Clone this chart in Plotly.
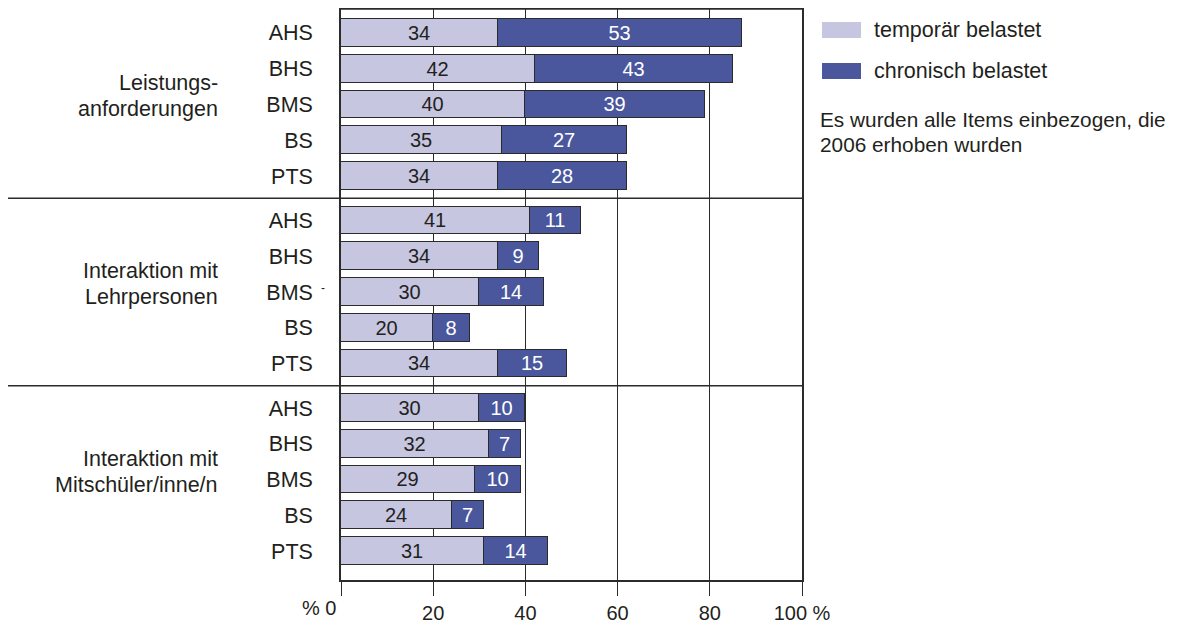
import plotly.graph_objects as go

# ---- data ----
groups = [["Leistungs-", "anforderungen"], ["Interaktion mit", "Lehrpersonen"], ["Interaktion mit", "Mitschüler/inne/n"]]
school_types = ["AHS", "BHS", "BMS", "BS", "PTS"]
temporaer = [
    [34, 42, 40, 35, 34],
    [41, 34, 30, 20, 34],
    [30, 32, 29, 24, 31],
]
chronisch = [
    [53, 43, 39, 27, 28],
    [11, 9, 14, 8, 15],
    [10, 7, 10, 7, 14],
]
series_names = ["temporär belastet", "chronisch belastet"]
x_ticks = [0, 20, 40, 60, 80, 100]
x_ticktext = ["", "20", "40", "60", "80", "100 %"]
note_lines = ["Es wurden alle Items einbezogen, die", "2006 erhoben wurden"]

# ---- style ----
C_LIGHT = "#c6c6e0"
C_DARK = "#4a579c"
C_TEXT = "#231f20"
C_LINE = "#2b2b2b"
FONT = "Liberation Sans, Arial, sans-serif"
FS = 21.5      # labels
FS_NOTE = 20.8
FS_SMALL = 20  # bar values, x tick labels
GAP = 0.245

# plot area in page pixels (page body has 8px margin)
PL, PR, PT, PB = 341, 802, 9, 580
W = PR - PL
H = PB - PT


def px_x(x):
    return (x - PL) / W


def px_y(y):
    return (PB - y) / H


pos, labels, t_vals, c_vals = [], [], [], []
for g in range(len(groups)):
    for k, s in enumerate(school_types):
        pos.append(g * len(school_types) + k + g * GAP)
        labels.append(s)
        t_vals.append(temporaer[g][k])
        c_vals.append(chronisch[g][k])

fig = go.Figure()
fig.add_trace(go.Bar(
    y=pos, x=t_vals, orientation="h", name=series_names[0],
    marker=dict(color=C_LIGHT, line=dict(color=C_LINE, width=1)),
    width=0.78, texttemplate="%{x}", textposition="inside",
    insidetextanchor="middle", constraintext="none", textangle=0,
    textfont=dict(size=FS_SMALL, color=C_TEXT, family=FONT), showlegend=False,
))
fig.add_trace(go.Bar(
    y=pos, x=c_vals, orientation="h", name=series_names[1],
    marker=dict(color=C_DARK, line=dict(color=C_LINE, width=1)),
    width=0.78, texttemplate="%{x}", textposition="inside",
    insidetextanchor="middle", constraintext="none", textangle=0,
    textfont=dict(size=FS_SMALL, color="white", family=FONT), showlegend=False,
))

n = len(school_types)
shapes = []
annotations = []
# top frame line
shapes.append(dict(type="line", xref="paper", yref="paper", x0=0, x1=1, y0=1, y1=1,
                   line=dict(color=C_LINE, width=1.5), layer="above"))
# group separators
for g in range(1, len(groups)):
    ysep = ((g * n - 1) + (g - 1) * GAP + g * n + g * GAP) / 2
    shapes.append(dict(type="line", xref="paper", yref="y", x0=px_x(8), x1=1,
                       y0=ysep, y1=ysep, line=dict(color=C_LINE, width=1.5), layer="above"))
# group labels (one annotation per line)
for g, lines in enumerate(groups):
    center = g * n + 2 + g * GAP
    for j, line in enumerate(lines):
        annotations.append(dict(text=line, xref="paper", yref="y", x=px_x(220), y=center,
                                yshift=8 + 13 - 26 * j,
                                xanchor="right", yanchor="middle", align="right", showarrow=False,
                                font=dict(size=FS, color=C_TEXT, family=FONT)))
# small dash next to BMS in group 2
annotations.append(dict(text="-", xref="paper", yref="y", x=px_x(323), y=n + 2 + GAP - 0.12,
                        xanchor="center", yanchor="middle", showarrow=False,
                        font=dict(size=12, color=C_TEXT, family=FONT)))
# "% 0" label
annotations.append(dict(text="% 0", xref="x", yref="paper", x=0, y=0, xshift=-3, yshift=-28,
                        xanchor="right", yanchor="middle", showarrow=False,
                        font=dict(size=FS_SMALL, color=C_TEXT, family=FONT)))
# legend (custom)
for i, (name, col) in enumerate(zip(series_names, [C_LIGHT, C_DARK])):
    top = 22 + i * 41
    shapes.append(dict(type="rect", xref="paper", yref="paper",
                       x0=px_x(822), x1=px_x(861),
                       y0=px_y(top + 16), y1=px_y(top),
                       fillcolor=col, line=dict(width=0)))
    annotations.append(dict(text=name, xref="paper", yref="paper", x=px_x(872),
                            y=px_y(top + 8), xanchor="left", yanchor="middle",
                            showarrow=False, font=dict(size=FS, color=C_TEXT, family=FONT)))
for j, line in enumerate(note_lines):
    annotations.append(dict(text=line, xref="paper", yref="paper", x=px_x(818),
                            y=px_y(119 + 26 * j), xanchor="left", yanchor="middle", align="left",
                            showarrow=False, font=dict(size=FS_NOTE, color=C_TEXT, family=FONT)))

FIG_W, FIG_H = 1171, 617
fig.update_layout(
    width=FIG_W, height=FIG_H,
    margin=dict(l=PL - 8, r=FIG_W - (PR - 8), t=PT - 8, b=FIG_H - (PB - 8), autoexpand=False),
    barmode="stack", bargap=0,
    plot_bgcolor="white", paper_bgcolor="white",
    font=dict(family=FONT, size=FS, color=C_TEXT),
    shapes=shapes, annotations=annotations,
    xaxis=dict(range=[0, 100], tickvals=x_ticks, ticktext=x_ticktext,
               showgrid=True, gridcolor=C_LINE, gridwidth=1,
               showline=True, linecolor=C_LINE, linewidth=1.5, mirror=True,
               ticks="outside", ticklen=14, tickcolor=C_LINE, tickwidth=1,
               zeroline=False, automargin=False,
               tickfont=dict(size=FS_SMALL, color=C_TEXT, family=FONT)),
    yaxis=dict(range=[15.30, -0.67], tickvals=pos, ticktext=labels,
               showgrid=False, zeroline=False, ticks="", automargin=False,
               showline=True, linecolor=C_LINE, linewidth=1.5, mirror=True,
               ticklabelstandoff=22, tickfont=dict(size=FS, color=C_TEXT, family=FONT)),
)

fig.write_html("out.html")
